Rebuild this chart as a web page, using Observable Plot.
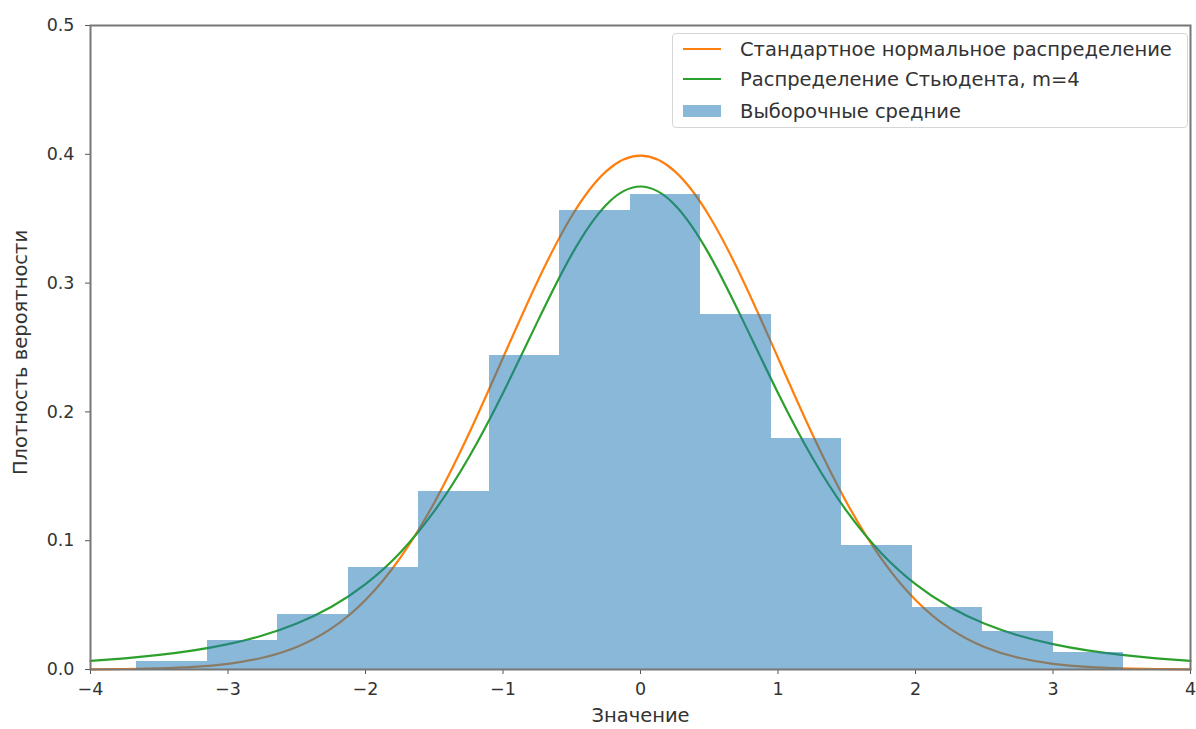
<!DOCTYPE html>
<html>
<head>
<meta charset="utf-8">
<script src="https://cdn.jsdelivr.net/npm/d3@7"></script>
<script src="https://cdn.jsdelivr.net/npm/@observablehq/plot@0.6"></script>
<style>
  html, body { margin: 0; padding: 0; background: #fff; }
  #wrap { position: relative; width: 1196px; height: 729px; font-family: "DejaVu Sans", sans-serif; }
  #legend {
    position: absolute; left: 672px; top: 33px; width: 516px; height: 95px;
    border: 1px solid #d6d6d6; border-radius: 4px; background: rgba(255,255,255,0.85);
    box-sizing: border-box; font-size: 19.5px; color: #333;
  }
  .row { position: absolute; left: 10px; display: flex; align-items: center; height: 26px; }
  .sw { width: 38px; margin-right: 19px; }
</style>
</head>
<body>
<div id="wrap">
  <div id="chart"></div>
  <div id="legend"></div>
</div>
<script>
// Histogram bin edges and heights (density)
const binEdges = [-3.665, -3.152, -2.639, -2.127, -1.614, -1.101, -0.588, -0.076, 0.437, 0.950, 1.463, 1.975, 2.488, 3.001, 3.514];
const binHeights = [0.006, 0.0225, 0.043, 0.079, 0.138, 0.244, 0.356, 0.369, 0.276, 0.179, 0.096, 0.048, 0.0295, 0.013];

// Curve sample positions and values
const curveX = [-4, -3.75, -3.5, -3.25, -3, -2.75, -2.5, -2.25, -2, -1.75, -1.5, -1.25, -1, -0.75, -0.5, -0.25, 0,
                0.25, 0.5, 0.75, 1, 1.25, 1.5, 1.75, 2, 2.25, 2.5, 2.75, 3, 3.25, 3.5, 3.75, 4];
const normalHalf = [0.3989, 0.3867, 0.3521, 0.3011, 0.2420, 0.1826, 0.1295, 0.0863, 0.0540, 0.0317, 0.0175, 0.0091, 0.0044, 0.0020, 0.0009, 0.0004, 0.0001];
const studentHalf = [0.3750, 0.3607, 0.3223, 0.2699, 0.2147, 0.1644, 0.1229, 0.0905, 0.0663, 0.0485, 0.0357, 0.0264, 0.0197, 0.0148, 0.0113, 0.0087, 0.0067];
const normalY = [...normalHalf.slice(1).reverse(), ...normalHalf];
const studentY = [...studentHalf.slice(1).reverse(), ...studentHalf];

const xTicks = [-4, -3, -2, -1, 0, 1, 2, 3, 4];
const yTicks = [0, 0.1, 0.2, 0.3, 0.4, 0.5];

const seriesNames = ["Стандартное нормальное распределение", "Распределение Стьюдента, m=4", "Выборочные средние"];
const colors = ["#ff7f0e", "#2ca02c", "#1f77b4"];

const bins = binHeights.map((h, i) => ({x1: binEdges[i], x2: binEdges[i + 1], y: h}));
const normalData = curveX.map((x, i) => ({x, y: normalY[i]}));
const studentData = curveX.map((x, i) => ({x, y: studentY[i]}));

const chart = Plot.plot({
  width: 1196,
  height: 729,
  marginLeft: 90,
  marginRight: 6,
  marginTop: 25,
  marginBottom: 60,
  style: {fontFamily: "DejaVu Sans, sans-serif", fontSize: "17.5px", color: "#333", background: "#fff"},
  x: {domain: [-4, 4]},
  y: {domain: [0, 0.5]},
  marks: [
    Plot.line(normalData, {x: "x", y: "y", stroke: colors[0], strokeWidth: 2.2, curve: "natural"}),
    Plot.line(studentData, {x: "x", y: "y", stroke: colors[1], strokeWidth: 2.2, curve: "natural"}),
    Plot.rectY(bins, {x1: "x1", x2: "x2", y: "y", fill: colors[2], fillOpacity: 0.52, shapeRendering: "crispEdges"}),
    Plot.axisX({ticks: xTicks, tickSize: 5, tickPadding: 8, stroke: "#555", label: null}),
    Plot.axisY({ticks: yTicks, tickSize: 5, tickPadding: 11, stroke: "#555", tickFormat: d3.format(".1f"), label: null}),
    Plot.text(["Значение"], {frameAnchor: "bottom", dy: 52, fontSize: 19.5, fill: "#333"}),
    Plot.text(["Плотность вероятности"], {frameAnchor: "left", textAnchor: "middle", dx: -70, dy: 5, rotate: -90, fontSize: 19.5, fill: "#333"}),
    Plot.frame({stroke: "#777", strokeWidth: 2})
  ]
});
document.getElementById("chart").appendChild(chart);

const legend = document.getElementById("legend");
const tops = [2, 32, 64];
seriesNames.forEach((name, i) => {
  const row = document.createElement("div");
  row.className = "row";
  row.style.top = tops[i] + "px";
  const sw = document.createElement("div");
  sw.className = "sw";
  if (i < 2) { sw.style.height = "2px"; sw.style.background = colors[i]; }
  else { sw.style.height = "12px"; sw.style.background = colors[i]; sw.style.opacity = 0.52; }
  const t = document.createElement("span");
  t.textContent = name;
  row.appendChild(sw); row.appendChild(t);
  legend.appendChild(row);
});
</script>
</body>
</html>
